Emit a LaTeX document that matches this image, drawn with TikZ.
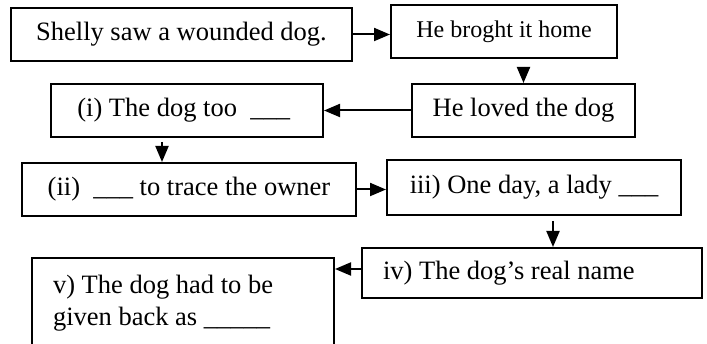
\documentclass[tikz,border=0pt]{standalone}
\usepackage{fontspec}
\setmainfont{Liberation Serif}
\usepackage{tikz}
\usetikzlibrary{arrows.meta, positioning, calc}
\tikzset{
    frame/.style={
        rectangle,
        draw=black,
        line width=2pt,
        inner sep=0pt,
        minimum height=53pt,
        font=\fontsize{26.5}{32}\selectfont,
    },
    leftframe/.style={
        frame,
        align=flush left,
        inner xsep=21pt,
    },
    link/.style={
        line width=2pt,
        -{Triangle[length=16pt,width=13pt]},
    },
}
\begin{document}
\begin{tikzpicture}[x=1pt,y=-1pt]
      \useasboundingbox (0,0) rectangle (707,344);

      \node [frame, minimum width=341pt] (Shelly) at (181.5,34.5) {Shelly saw a wounded dog.};
      \node [frame, minimum width=226pt, font=\fontsize{24}{29}\selectfont] (Home) at (504,31.5) {He broght it home};
      \node [frame, minimum width=223pt] (Loved) at (523.5,110.5) {He loved the dog};
      \node [frame, minimum width=272pt] (Too) at (187,110.5) {(i) The dog too\ \ \_\_\_\ \ };
      \node [frame, minimum width=334pt] (Trace) at (189,189.5) {(ii)\ \ \_\_\_ to trace the owner};
      \node [frame, minimum width=294pt, minimum height=55pt] (Lady) at (534,187.5) {iii) One day, a lady \_\_\_};
      \node [leftframe, text width=298pt, minimum height=50pt] (Name) at (532,273) {iv) The dog’s real name};
      \node [leftframe, text width=260pt, minimum height=90pt] (Back) at (183,303) {v) The dog had to be\\given back as \_\_\_\_\_};

      \draw [link] (Shelly.east) -- (Shelly.east -| Home.west);
      \draw [link] ([yshift=-8pt]Home.south -| Loved.north) -- (Loved.north);
      \draw [link] (Loved.west) -- (Too.east);
      \draw [link] ([xshift=-25pt,yshift=-4pt]Too.south) -- ([xshift=-25pt]Too.south |- Trace.north);
      \draw [link] (Trace.east) -- (Trace.east -| Lady.west);
      \draw [link] ([xshift=19pt,yshift=-5pt]Lady.south) -- ([xshift=19pt]Lady.south |- Name.north);
      \draw [link] ([yshift=4pt]Name.west) -- ([yshift=4pt]Name.west -| Back.east);
    \end{tikzpicture}
\end{document}
